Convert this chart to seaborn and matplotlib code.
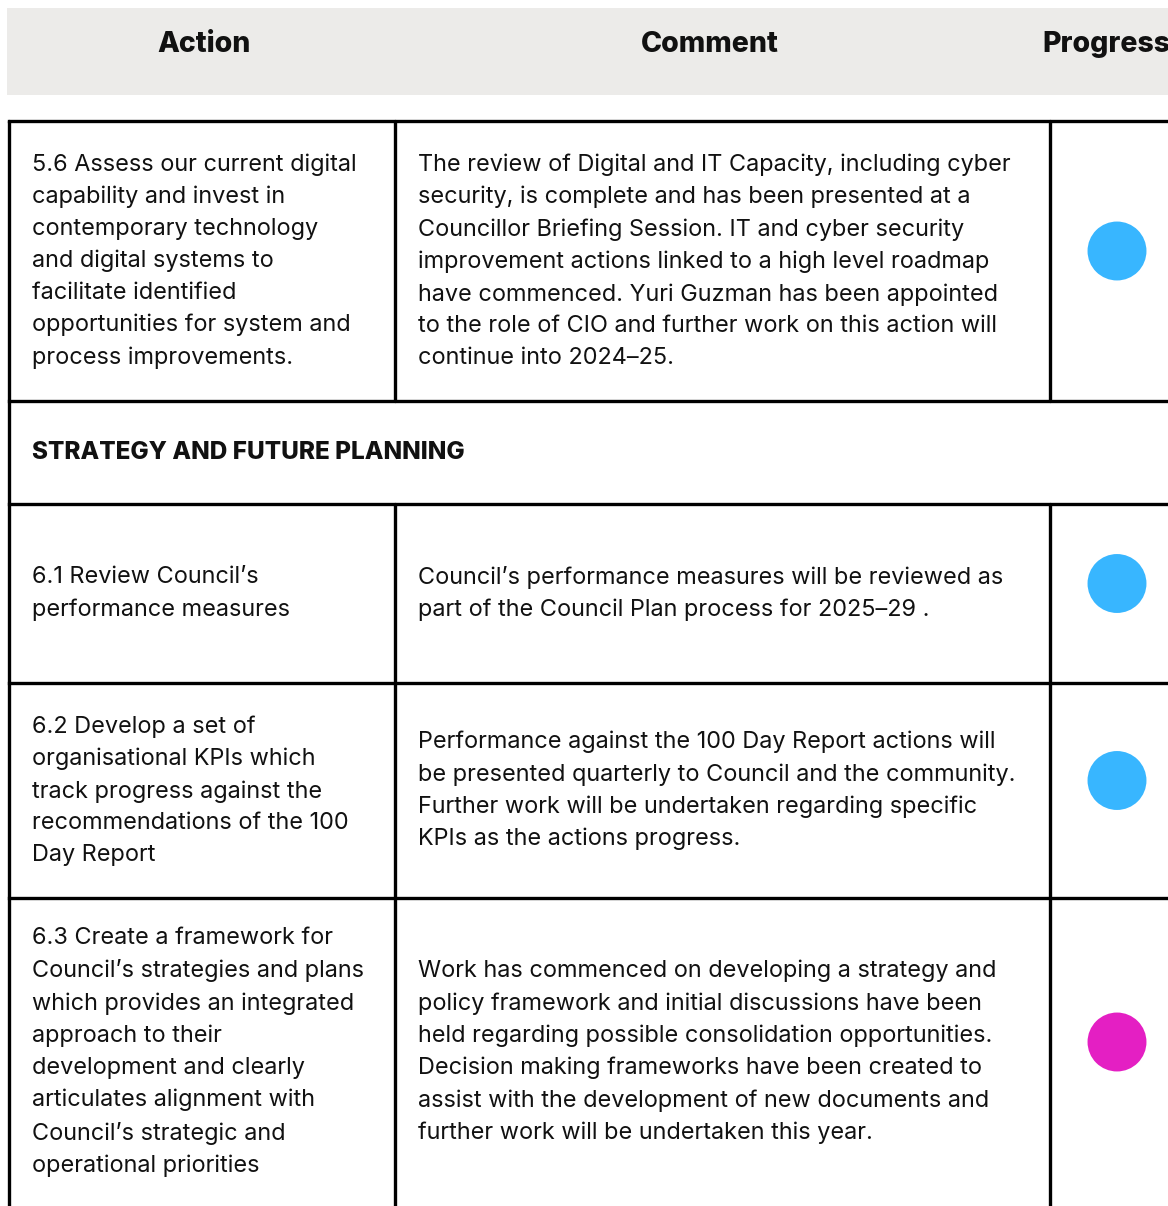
import pandas as pd
import matplotlib.pyplot as plt
import seaborn as sns
from matplotlib.patches import Rectangle

# -------------------------------
# Table content
# -------------------------------
headers = ["Action", "Comment", "Progress"]

actions = [
    "5.6 Assess our current digital\ncapability and invest in\ncontemporary technology\nand digital systems to\nfacilitate identified\nopportunities for system and\nprocess improvements.",
    "6.1 Review Council\u2019s\nperformance measures",
    "6.2 Develop a set of\norganisational KPIs which\ntrack progress against the\nrecommendations of the 100\nDay Report",
    "6.3 Create a framework for\nCouncil\u2019s strategies and plans\nwhich provides an integrated\napproach to their\ndevelopment and clearly\narticulates alignment with\nCouncil\u2019s strategic and\noperational priorities",
]

comments = [
    "The review of Digital and IT Capacity, including cyber\nsecurity, is complete and has been presented at a\nCouncillor Briefing Session. IT and cyber security\nimprovement actions linked to a high level roadmap\nhave commenced. Yuri Guzman has been appointed\nto the role of CIO and further work on this action will\ncontinue into 2024\u201325.",
    "Council\u2019s performance measures will be reviewed as\npart of the Council Plan process for 2025\u201329 .",
    "Performance against the 100 Day Report actions will\nbe presented quarterly to Council and the community.\nFurther work will be undertaken regarding specific\nKPIs as the actions progress.",
    "Work has commenced on developing a strategy and\npolicy framework and initial discussions have been\nheld regarding possible consolidation opportunities.\nDecision making frameworks have been created to\nassist with the development of new documents and\nfurther work will be undertaken this year.",
]

progress = ["on track", "on track", "on track", "in progress"]

section_title = "STRATEGY AND FUTURE PLANNING"

status_colors = {"on track": "#38B6FF", "in progress": "#E41FC3"}

# -------------------------------
# Layout (pixels)
# -------------------------------
W, H = 1168, 1206
col_edges = [9, 395, 1050, 1168]
row_edges = [121, 401, 504, 683, 898, 1206]  # row 1 = section row
section_row = 1
line_w = 2.4
body_size = 16.9

sns.set_theme(style="white")
plt.rcParams["font.family"] = ["Inter", "DejaVu Sans"]

fig = plt.figure(figsize=(W / 100, H / 100), dpi=100)
ax = fig.add_axes([0, 0, 1, 1])

# header band
ax.add_patch(Rectangle((7, 8), W, 87, color="#ECEBE9", lw=0))
head_x = [204, 710, 1042]
head_ha = ["center", "center", "left"]
for hx, ha, h in zip(head_x, head_ha, headers):
    ax.text(hx, 44, h, ha=ha, va="center", fontsize=20.5,
            fontweight="heavy", color="#111111", clip_on=True)

# grid lines
for y in row_edges[:-1]:
    ax.plot([col_edges[0], W + 5], [y, y], color="black", lw=line_w,
            solid_capstyle="projecting")
ax.plot([col_edges[0]] * 2, [row_edges[0], H + 5], color="black", lw=line_w)
for x in col_edges[1:3]:
    ax.plot([x, x], [row_edges[0], row_edges[section_row]], color="black", lw=line_w)
    ax.plot([x, x], [row_edges[section_row + 1], H + 5], color="black", lw=line_w)

# section heading
sy = (row_edges[section_row] + row_edges[section_row + 1]) / 2
ax.text(32, sy, section_title, ha="left", va="center", fontsize=17.5,
        fontweight="heavy", color="#111111")

# body rows
rows = []
r = 0
for i in range(len(actions)):
    if r == section_row:
        r += 1
    cy = (row_edges[r] + row_edges[r + 1]) / 2
    rows.append(cy)
    ax.text(32, cy, actions[i], ha="left", va="center", fontsize=body_size,
            linespacing=1.57, color="#111111")
    ax.text(418, cy, comments[i], ha="left", va="center", fontsize=body_size,
            linespacing=1.57, color="#111111")
    r += 1

df = pd.DataFrame({"x": [1117] * len(progress), "y": rows, "status": progress})
df["y"] = df["y"] - 10
sns.scatterplot(data=df, x="x", y="y", hue="status", palette=status_colors,
                s=1800, linewidth=0, legend=False, ax=ax)
ax.set_xlim(0, W)
ax.set_ylim(H, 0)
ax.axis("off")

plt.savefig("out.png", dpi=100)
plt.close()
